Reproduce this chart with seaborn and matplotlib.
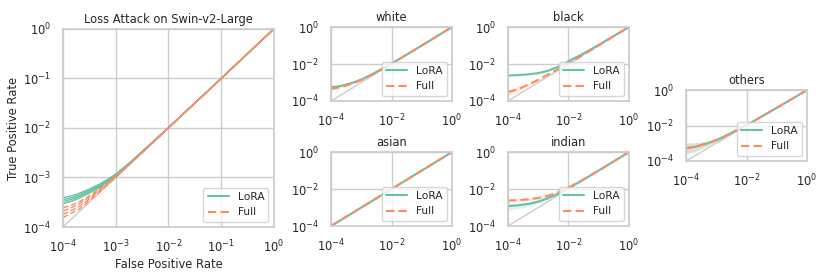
import numpy as np
import pandas as pd
import seaborn as sns
import matplotlib.pyplot as plt

# Main panel: several runs per method
FPR_MAIN = [1e-4, 1.5e-4, 2e-4, 3e-4, 5e-4, 7e-4, 1e-3, 2e-3, 5e-3, 1e-2, 1e-1, 1.0]
LORA_RUNS = [
    [3.9e-4, 4.3e-4, 4.75e-4, 5.7e-4, 7.4e-4, 9.1e-4, 1.17e-3, 2.15e-3, 5.2e-3, 1.02e-2, 0.1, 1.0],
    [3.55e-4, 3.95e-4, 4.4e-4, 5.35e-4, 7.0e-4, 8.8e-4, 1.14e-3, 2.12e-3, 5.15e-3, 1.02e-2, 0.1, 1.0],
    [3.25e-4, 3.65e-4, 4.1e-4, 5.0e-4, 6.65e-4, 8.5e-4, 1.12e-3, 2.1e-3, 5.1e-3, 1.01e-2, 0.1, 1.0],
    [2.95e-4, 3.35e-4, 3.8e-4, 4.7e-4, 6.3e-4, 8.2e-4, 1.1e-3, 2.08e-3, 5.1e-3, 1.01e-2, 0.1, 1.0],
]
FULL_RUNS = [
    [2.45e-4, 2.8e-4, 3.2e-4, 4.1e-4, 6.0e-4, 7.9e-4, 1.06e-3, 2.05e-3, 5.0e-3, 1.0e-2, 0.099, 1.0],
    [2.1e-4, 2.5e-4, 2.9e-4, 3.8e-4, 5.7e-4, 7.6e-4, 1.04e-3, 2.03e-3, 5.0e-3, 1.0e-2, 0.099, 1.0],
    [1.8e-4, 2.2e-4, 2.55e-4, 3.5e-4, 5.45e-4, 7.4e-4, 1.02e-3, 2.02e-3, 5.0e-3, 1.0e-2, 0.099, 1.0],
    [1.55e-4, 1.95e-4, 2.25e-4, 3.25e-4, 5.2e-4, 7.2e-4, 1.0e-3, 2.0e-3, 5.0e-3, 1.0e-2, 0.099, 1.0],
]

# Subgroup panels: mean curve with lower / upper band
FPR_SUB = [1e-4, 2e-4, 5e-4, 1e-3, 2e-3, 5e-3, 1e-2, 3e-2, 1e-1, 1.0]
GROUPS = ['white', 'black', 'asian', 'indian', 'others']

LORA_MEAN = {
    'white': [5.5e-4, 6.4e-4, 9.5e-4, 1.45e-3, 2.5e-3, 5.6e-3, 1.05e-2, 3.05e-2, 0.1, 1.0],
    'black': [2.4e-3, 2.5e-3, 2.8e-3, 3.2e-3, 4.2e-3, 7.5e-3, 1.4e-2, 3.6e-2, 0.108, 1.0],
    'asian': [1.0e-4, 2.0e-4, 5.0e-4, 1.0e-3, 2.0e-3, 5.0e-3, 1.0e-2, 3.0e-2, 0.1, 1.0],
    'indian': [1.2e-3, 1.3e-3, 1.6e-3, 2.1e-3, 3.1e-3, 5.9e-3, 1.12e-2, 3.1e-2, 0.1, 1.0],
    'others': [5.3e-4, 6.3e-4, 9.8e-4, 1.5e-3, 2.6e-3, 5.7e-3, 1.05e-2, 3.05e-2, 0.1, 1.0],
}
LORA_LO = {
    'white': [5.1e-4, 6.0e-4, 9.0e-4, 1.4e-3, 2.45e-3, 5.5e-3, 1.04e-2, 3.03e-2, 0.1, 1.0],
    'black': [2.25e-3, 2.35e-3, 2.65e-3, 3.05e-3, 4.0e-3, 7.2e-3, 1.35e-2, 3.5e-2, 0.106, 1.0],
    'asian': [1.0e-4, 2.0e-4, 5.0e-4, 1.0e-3, 2.0e-3, 5.0e-3, 1.0e-2, 3.0e-2, 0.1, 1.0],
    'indian': [7.5e-4, 8.5e-4, 1.15e-3, 1.65e-3, 2.7e-3, 5.5e-3, 1.07e-2, 3.05e-2, 0.1, 1.0],
    'others': [2.5e-4, 3.4e-4, 7.0e-4, 1.2e-3, 2.3e-3, 5.4e-3, 1.02e-2, 3.0e-2, 0.1, 1.0],
}
LORA_HI = {
    'white': [5.9e-4, 6.8e-4, 1.0e-3, 1.5e-3, 2.55e-3, 5.7e-3, 1.06e-2, 3.07e-2, 0.1, 1.0],
    'black': [2.55e-3, 2.65e-3, 2.95e-3, 3.35e-3, 4.4e-3, 7.8e-3, 1.45e-2, 3.7e-2, 0.11, 1.0],
    'asian': [1.1e-4, 2.1e-4, 5.1e-4, 1.0e-3, 2.0e-3, 5.0e-3, 1.0e-2, 3.0e-2, 0.1, 1.0],
    'indian': [1.6e-3, 1.7e-3, 2.0e-3, 2.5e-3, 3.5e-3, 6.3e-3, 1.17e-2, 3.15e-2, 0.1, 1.0],
    'others': [1.05e-3, 1.1e-3, 1.35e-3, 1.85e-3, 2.9e-3, 6.0e-3, 1.08e-2, 3.1e-2, 0.1, 1.0],
}
FULL_MEAN = {
    'white': [4.5e-4, 5.4e-4, 8.6e-4, 1.35e-3, 2.4e-3, 5.5e-3, 1.04e-2, 3.03e-2, 0.1, 1.0],
    'black': [3.0e-4, 4.2e-4, 8.0e-4, 1.4e-3, 2.6e-3, 5.8e-3, 1.05e-2, 3.05e-2, 0.1, 1.0],
    'asian': [1.0e-4, 2.0e-4, 5.0e-4, 1.0e-3, 2.0e-3, 5.0e-3, 1.0e-2, 3.0e-2, 0.1, 1.0],
    'indian': [2.4e-3, 2.5e-3, 2.8e-3, 3.3e-3, 4.3e-3, 7.0e-3, 1.2e-2, 3.2e-2, 0.1, 1.0],
    'others': [5.3e-4, 6.3e-4, 9.8e-4, 1.5e-3, 2.6e-3, 5.7e-3, 1.05e-2, 3.05e-2, 0.1, 1.0],
}
FULL_LO = {
    'white': [4.2e-4, 5.1e-4, 8.2e-4, 1.3e-3, 2.35e-3, 5.4e-3, 1.03e-2, 3.02e-2, 0.1, 1.0],
    'black': [2.0e-4, 3.1e-4, 6.7e-4, 1.25e-3, 2.4e-3, 5.5e-3, 1.02e-2, 3.0e-2, 0.1, 1.0],
    'asian': [1.0e-4, 2.0e-4, 5.0e-4, 1.0e-3, 2.0e-3, 5.0e-3, 1.0e-2, 3.0e-2, 0.1, 1.0],
    'indian': [1.85e-3, 1.95e-3, 2.25e-3, 2.75e-3, 3.8e-3, 6.5e-3, 1.15e-2, 3.15e-2, 0.1, 1.0],
    'others': [2.6e-4, 3.5e-4, 7.1e-4, 1.2e-3, 2.3e-3, 5.4e-3, 1.02e-2, 3.0e-2, 0.1, 1.0],
}
FULL_HI = {
    'white': [4.8e-4, 5.7e-4, 9.0e-4, 1.4e-3, 2.45e-3, 5.6e-3, 1.05e-2, 3.04e-2, 0.1, 1.0],
    'black': [4.4e-4, 5.6e-4, 9.4e-4, 1.55e-3, 2.8e-3, 6.1e-3, 1.08e-2, 3.1e-2, 0.1, 1.0],
    'asian': [1.1e-4, 2.1e-4, 5.1e-4, 1.0e-3, 2.0e-3, 5.0e-3, 1.0e-2, 3.0e-2, 0.1, 1.0],
    'indian': [3.0e-3, 3.1e-3, 3.4e-3, 3.9e-3, 4.9e-3, 7.5e-3, 1.25e-2, 3.25e-2, 0.1, 1.0],
    'others': [1.0e-3, 1.08e-3, 1.33e-3, 1.82e-3, 2.9e-3, 6.0e-3, 1.08e-2, 3.1e-2, 0.1, 1.0],
}

DIAG = [1e-4, 1.0]

sns.set_theme(style='whitegrid')
plt.rcParams['font.family'] = ['DejaVu Sans']
palette = sns.color_palette('Set2', 2)
colors = {'LoRA': palette[0], 'Full': palette[1]}
dashes = {'LoRA': '', 'Full': (4, 2)}
FS = 8.3

fig = plt.figure(figsize=(8.3, 2.77), dpi=100)


def style_axes(ax, ticks):
    ax.set_xscale('log')
    ax.set_yscale('log')
    ax.set_xlim(1e-4, 1)
    ax.set_ylim(1e-4, 1)
    ax.set_xticks(ticks)
    ax.set_yticks(ticks)
    ax.minorticks_off()
    ax.tick_params(labelsize=FS, pad=2.5)
    ax.set_xlabel('')
    ax.set_ylabel('')
    for s in ax.spines.values():
        s.set_color('#cccccc')


def add_legend(ax):
    leg = ax.legend(loc='lower right', fontsize=7.7, frameon=True)
    for ln in leg.get_lines():
        ln.set_linewidth(1.5)


# ---- main panel
rows = []
for method, runs in [('LoRA', LORA_RUNS), ('Full', FULL_RUNS)]:
    for seed, vals in enumerate(runs):
        for f, t in zip(FPR_MAIN, vals):
            rows.append({'fpr': f, 'tpr': t, 'method': method, 'seed': seed})
df_main = pd.DataFrame(rows)

ax = fig.add_axes([0.0759, 0.1805, 0.254, 0.715])
ax.plot(DIAG, DIAG, color='#cccccc', lw=1, zorder=1)
sns.lineplot(data=df_main, x='fpr', y='tpr', hue='method', style='method',
             units='seed', estimator=None, palette=colors, dashes=dashes,
             lw=1, ax=ax)
style_axes(ax, [1e-4, 1e-3, 1e-2, 1e-1, 1])
ax.set_title('Loss Attack on Swin-v2-Large', fontsize=FS, pad=4.5)
ax.set_xlabel('False Positive Rate', fontsize=FS, labelpad=2)
ax.set_ylabel('True Positive Rate', fontsize=FS, labelpad=2)
add_legend(ax)

# ---- subgroup panels
positions = {
    'white': [0.3988, 0.6354, 0.1458, 0.267],
    'black': [0.6120, 0.6354, 0.1458, 0.267],
    'asian': [0.3988, 0.1840, 0.1458, 0.267],
    'indian': [0.6120, 0.1840, 0.1458, 0.267],
    'others': [0.8265, 0.4188, 0.1458, 0.256],
}

for g in GROUPS:
    ax = fig.add_axes(positions[g])
    ax.plot(DIAG, DIAG, color='#cccccc', lw=1, zorder=1)
    rows = []
    for method, mean in [('LoRA', LORA_MEAN[g]), ('Full', FULL_MEAN[g])]:
        for f, t in zip(FPR_SUB, mean):
            rows.append({'fpr': f, 'tpr': t, 'method': method})
    df = pd.DataFrame(rows)
    ax.fill_between(FPR_SUB, LORA_LO[g], LORA_HI[g], color=colors['LoRA'],
                    alpha=0.2, lw=0)
    ax.fill_between(FPR_SUB, FULL_LO[g], FULL_HI[g], color=colors['Full'],
                    alpha=0.2, lw=0)
    sns.lineplot(data=df, x='fpr', y='tpr', hue='method', style='method',
                 palette=colors, dashes=dashes, lw=1.5, ax=ax)
    style_axes(ax, [1e-4, 1e-2, 1])
    ax.set_title(g, fontsize=FS, pad=4.5)
    add_legend(ax)

fig.savefig('out.png', dpi=100)
